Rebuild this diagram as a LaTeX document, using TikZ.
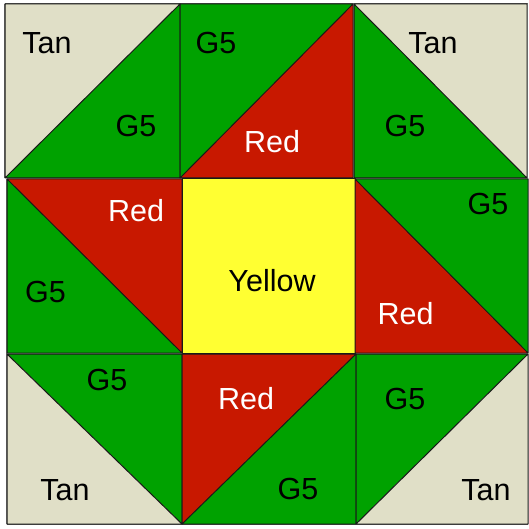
\documentclass[tikz,border=0pt]{standalone}
\usepackage{fontspec}
\setmainfont{Liberation Sans}
\definecolor{qgreen}{RGB}{0,162,0}
\definecolor{qred}{RGB}{200,24,0}
\definecolor{qtan}{RGB}{224,223,199}
\definecolor{qyellow}{RGB}{255,255,50}
\begin{document}
\begin{tikzpicture}[x=1pt,y=-1pt,
  patch/.style={draw=black!90,line width=1pt,line join=round},
  lbl/.style={anchor=base,inner sep=0pt,font=\fontsize{30.5}{32}\selectfont},
  lblk/.style={lbl,text=black},
  lblw/.style={lbl,text=white}]
\useasboundingbox (0,0) rectangle (528,529);
\fill[white] (0,0) rectangle (528,529);
% outer gray frame
\draw[black!55,line width=1pt] (4.5,4) -- (527.5,4);
\draw[black!55,line width=1pt] (4.5,4) -- (4.5,178) (6.5,179) -- (6.5,524);
\draw[black!55,line width=1pt] (6.5,524) -- (528,524);
% ---- row 1 ----
% TL: tan upper-left, green lower-right
\fill[qtan] (5,4) -- (180,4) -- (5,178) -- cycle;
\fill[qgreen] (180,4) -- (180,178) -- (5,178) -- cycle;
\draw[patch] (5,4) rectangle (180,178) (5,178) -- (180,4);
% TM: green upper-left, red lower-right
\fill[qgreen] (180,4) -- (353,4) -- (180,178) -- cycle;
\fill[qred] (353,4) -- (353,178) -- (180,178) -- cycle;
\draw[patch] (180,4) rectangle (353,178) (180,178) -- (353,4);
% TR: tan upper-right, green lower-left
\fill[qtan] (354,4) -- (527,4) -- (527,178) -- cycle;
\fill[qgreen] (354,4) -- (527,178) -- (354,178) -- cycle;
\draw[patch] (354,4) rectangle (527,178) (354,4) -- (527,178);
% ---- row 2 ----
% ML: red upper-right, green lower-left
\fill[qred] (7,179) -- (182,179) -- (182,353) -- cycle;
\fill[qgreen] (7,179) -- (182,353) -- (7,353) -- cycle;
\draw[patch] (7,179) rectangle (182,353) (7,179) -- (182,353);
% Center
\fill[qyellow] (182,179) rectangle (355,353);
\draw[patch] (182,179) rectangle (355,353);
% MR: green upper-right, red lower-left
\fill[qgreen] (355,179) -- (528,179) -- (528,353) -- cycle;
\fill[qred] (355,179) -- (528,353) -- (355,353) -- cycle;
\draw[patch] (355,179) rectangle (528,353) (355,179) -- (528,353);
% ---- row 3 ----
% BL: green upper-right, tan lower-left
\fill[qgreen] (7,354) -- (182,354) -- (182,524) -- cycle;
\fill[qtan] (7,354) -- (182,524) -- (7,524) -- cycle;
\draw[patch] (7,354) rectangle (182,524) (7,354) -- (182,524);
% BM: red upper-left, green lower-right
\fill[qred] (182,354) -- (356,354) -- (182,524) -- cycle;
\fill[qgreen] (356,354) -- (356,524) -- (182,524) -- cycle;
\draw[patch] (182,354) rectangle (356,524) (182,524) -- (356,354);
% BR: green upper-left, tan lower-right
\fill[qgreen] (356,354) -- (528,354) -- (356,524) -- cycle;
\fill[qtan] (528,354) -- (528,524) -- (356,524) -- cycle;
\draw[patch] (356,354) rectangle (528,524) (356,524) -- (528,354);
% ---- labels ----
\node[lblk] (tlTan) at (47,53.3) {Tan};
\node[lblk] (tlG5) at (136,136.7) {G5};
\node[lblk] (tmG5) at (216,53.3) {G5};
\node[lblw] (tmRed) at (272,152.7) {Red};
\node[lblk] (trTan) at (433,54) {Tan};
\node[lblk] (trG5) at (405,136.7) {G5};
\node[lblw] (mlRed) at (136,221.7) {Red};
\node[lblk] (mlG5) at (45.5,302.7) {G5};
\node[lblk] (cYel) at (272,291.7) {Yellow};
\node[lblk] (mrG5) at (488,214.3) {G5};
\node[lblw] (mrRed) at (405.5,324) {Red};
\node[lblk] (blG5) at (107,390) {G5};
\node[lblk] (blTan) at (65,500) {Tan};
\node[lblw] (bmRed) at (246,409.3) {Red};
\node[lblk] (bmG5) at (298,499.3) {G5};
\node[lblk] (brG5) at (405,409.3) {G5};
\node[lblk] (brTan) at (486,500) {Tan};
\end{tikzpicture}
\end{document}
